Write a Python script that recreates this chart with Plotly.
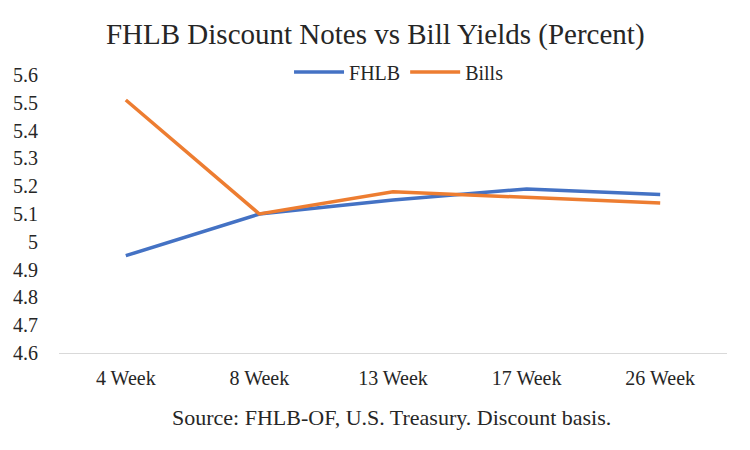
import plotly.graph_objects as go

# Chart data
categories = ['4 Week', '8 Week', '13 Week', '17 Week', '26 Week']
fhlb = [4.95, 5.10, 5.15, 5.19, 5.17]
bills = [5.51, 5.10, 5.18, 5.16, 5.14]
y_ticks = [4.6, 4.7, 4.8, 4.9, 5.0, 5.1, 5.2, 5.3, 5.4, 5.5, 5.6]
y_tick_labels = ['4.6', '4.7', '4.8', '4.9', '5', '5.1', '5.2', '5.3', '5.4', '5.5', '5.6']

serif = 'Liberation Serif, Times New Roman, serif'
text_color = '#262626'

# page body has an 8px margin, so the figure is a bit smaller than the window
W, H = 742, 442

fig = go.Figure()

fig.add_trace(go.Scatter(
    x=categories, y=fhlb, name='FHLB', mode='lines',
    line=dict(color='#4472C4', width=3.5)
))
fig.add_trace(go.Scatter(
    x=categories, y=bills, name='Bills', mode='lines',
    line=dict(color='#ED7D31', width=3.5)
))

fig.update_layout(
    width=W, height=H,
    paper_bgcolor='white', plot_bgcolor='white',
    margin=dict(l=51, r=23, t=67, b=97, autoexpand=False),
    font=dict(family=serif, size=20, color=text_color),
    title=dict(
        text='FHLB Discount Notes vs Bill Yields (Percent)',
        x=0.495, xanchor='center', y=1 - 26 / H, yref='container', yanchor='middle',
        font=dict(family=serif, size=29, color=text_color)
    ),
    legend=dict(
        orientation='h', x=0.527, xref='container', xanchor='center',
        y=1 - 64 / H, yref='container', yanchor='middle',
        font=dict(family=serif, size=20, color=text_color),
        itemwidth=50,
        bgcolor='rgba(0,0,0,0)'
    ),
    showlegend=True
)

fig.update_xaxes(
    range=[-0.5, 4.5],
    showgrid=False, showline=True, linecolor='#d9d9d9', linewidth=1,
    ticks='', zeroline=False, ticklabelstandoff=7,
    tickfont=dict(family=serif, size=20, color=text_color)
)
fig.update_yaxes(
    range=[4.6, 5.6], tickvals=y_ticks, ticktext=y_tick_labels,
    showgrid=False, showline=False, zeroline=False, ticks='',
    ticklabelstandoff=20,
    tickfont=dict(family=serif, size=20, color=text_color)
)

fig.add_annotation(
    text='Source: FHLB-OF, U.S. Treasury. Discount basis.',
    x=0.4985, y=-0.2315, xref='paper', yref='paper',
    xanchor='center', yanchor='middle', showarrow=False,
    font=dict(family=serif, size=22, color=text_color)
)

fig.write_html('out.html')
